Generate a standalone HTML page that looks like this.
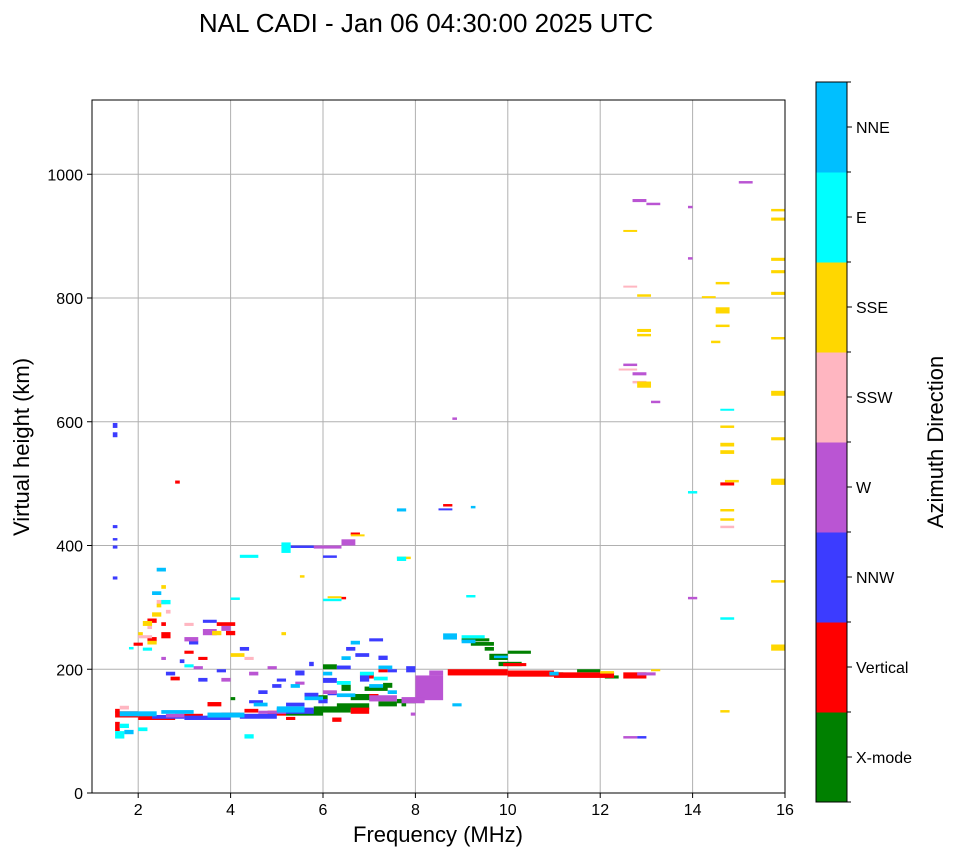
<!DOCTYPE html>
<html><head><meta charset="utf-8">
<style>
html,body{margin:0;padding:0;background:#fff;}
body{width:958px;height:857px;overflow:hidden;font-family:"Liberation Sans",sans-serif;}
svg text{font-family:"Liberation Sans",sans-serif;fill:#000;}
</style></head>
<body>
<svg id="chart" width="958" height="857" viewBox="0 0 958 857" xmlns="http://www.w3.org/2000/svg">
<text x="426" y="32" font-size="26" text-anchor="middle">NAL CADI - Jan 06 04:30:00 2025 UTC</text>
<g id="grid"></g>
<g id="marks"></g>
<rect x="92" y="100" width="693" height="693" fill="none" stroke="#000" stroke-width="1"/>
<g id="axes"></g>
<text x="438" y="842" font-size="22" text-anchor="middle">Frequency (MHz)</text>
<text transform="translate(29,447) rotate(-90)" font-size="22" text-anchor="middle">Virtual height (km)</text>
<g id="cbar"></g>
<text transform="translate(943,442) rotate(-90)" font-size="22" text-anchor="middle">Azimuth Direction</text>
</svg>
<script>
const xTicks=[2,4,6,8,10,12,14,16];
const yTicks=[0,200,400,600,800,1000];
const catLabels=["X-mode","Vertical","NNW","W","SSW","SSE","E","NNE"];
const catColors=["#008000","#ff0000","#3c3cff","#ba55d3","#ffb6c1","#ffd700","#00ffff","#00bfff"];
// runs: [freqStart, freqEnd, heightLow, heightHigh]
const xmodeRuns=[[5.2,6.0,125,135],[5.8,6.6,130,140],[6.3,7.0,135,145],[6.6,7.2,150,160],[6.9,7.4,165,172],[7.2,7.6,140,148],[7.6,8.0,145,152],[6.0,6.3,200,208],[7.3,7.5,170,178],[9.0,9.6,245,250],[9.2,9.7,238,244],[9.6,10.0,215,225],[9.8,10.3,205,212],[10.0,10.5,225,230],[10.8,11.2,190,195],[11.5,12.0,195,200],[12.1,12.4,185,190],[9.5,9.7,230,236],[6.4,6.6,165,175],[5.9,6.1,150,158],[4.0,4.1,150,155],[7.7,7.8,140,146]];
const verticalRuns=[[1.5,2.0,122,132],[2.0,2.8,118,126],[2.8,3.4,122,128],[3.8,4.2,122,130],[4.8,5.2,125,133],[6.6,7.0,128,138],[6.8,7.1,185,195],[7.2,7.4,195,200],[8.7,10.0,190,200],[10.0,11.0,188,198],[11.0,12.3,186,195],[12.5,13.0,185,195],[9.9,10.4,205,210],[1.5,1.6,100,115],[2.2,2.4,245,252],[2.5,2.7,250,260],[2.5,2.6,270,276],[1.9,2.1,238,243],[3.7,4.1,270,276],[3.9,4.1,255,262],[2.8,2.9,500,505],[8.6,8.8,463,467],[6.4,6.5,313,317],[6.6,6.8,417,421],[3.3,3.5,215,220],[3.5,3.8,140,147],[14.6,14.9,497,502],[7.0,7.2,155,160],[6.2,6.4,115,122],[4.3,4.6,130,136],[2.2,2.4,275,282],[1.6,1.8,125,130],[2.7,2.9,182,188],[3.0,3.2,225,230],[5.2,5.4,118,123],[1.5,1.6,130,136]];
const nnwRuns=[[1.45,1.55,590,598],[1.45,1.55,575,583],[1.45,1.55,428,433],[1.45,1.55,408,412],[1.45,1.55,395,400],[1.45,1.55,345,350],[2.3,3.0,120,126],[3.0,4.0,118,125],[4.2,5.0,120,128],[5.0,5.8,128,138],[5.2,5.6,140,146],[5.6,5.9,155,162],[6.0,6.3,178,186],[6.3,6.6,200,206],[6.7,7.0,220,226],[7.0,7.3,245,250],[3.3,3.5,180,186],[2.6,2.8,190,196],[3.1,3.3,240,246],[4.6,4.8,160,166],[5.0,5.2,180,185],[5.3,6.2,396,400],[7.8,8.0,195,205],[8.5,8.8,457,460],[12.8,13.0,88,92],[3.4,3.7,275,280],[4.4,4.7,145,150],[6.0,6.3,380,384],[4.9,5.1,170,176],[5.4,5.6,190,198],[5.7,5.8,205,212],[6.5,6.7,230,236],[7.2,7.4,215,222],[6.8,7.0,180,190],[4.2,4.4,230,236],[3.7,3.9,195,200],[2.9,3.0,210,216],[5.9,6.1,145,152],[7.4,7.6,195,200],[6.1,6.3,158,164]];
const wRuns=[[8.0,8.6,150,190],[8.3,8.6,190,198],[7.7,8.2,145,155],[7.0,7.6,148,158],[3.4,3.7,255,265],[3.8,4.0,262,270],[3.0,3.3,245,252],[2.6,3.0,122,128],[4.6,5.2,128,133],[5.8,6.4,395,400],[6.4,6.7,400,410],[12.8,13.2,190,195],[12.5,12.8,88,92],[8.8,8.9,603,607],[13.9,14.0,945,949],[13.9,14.0,862,866],[12.5,12.8,690,694],[12.7,13.0,955,960],[13.0,13.3,950,954],[12.7,13.0,675,680],[13.1,13.3,630,634],[13.9,14.1,313,317],[15.0,15.3,985,989],[4.4,4.6,190,196],[3.8,4.0,180,186],[7.9,8.0,125,130],[6.0,6.3,160,166],[4.8,5.0,200,205],[5.4,5.6,175,180],[3.2,3.4,200,205],[2.5,2.6,215,220]];
const sswRuns=[[2.0,2.3,250,255],[2.4,2.6,305,312],[1.6,1.8,135,141],[3.0,3.2,270,275],[4.3,4.5,215,220],[12.5,12.8,817,820],[12.7,13.0,662,666],[14.6,14.9,428,432],[12.4,12.8,683,686],[2.6,2.7,290,296],[2.2,2.3,265,270]];
const sseRuns=[[2.1,2.3,270,278],[2.3,2.5,285,292],[2.4,2.5,300,306],[2.2,2.4,240,246],[2.5,2.6,330,336],[3.6,3.8,255,262],[4.0,4.3,220,226],[5.1,5.2,255,260],[6.6,6.9,415,418],[7.6,7.9,378,382],[5.5,5.6,348,352],[6.1,6.4,315,318],[12.5,12.8,907,910],[12.8,13.1,802,806],[12.8,13.1,745,750],[12.8,13.1,738,742],[12.8,13.1,655,665],[14.2,14.5,800,803],[14.5,14.8,822,826],[14.5,14.8,775,785],[14.5,14.8,753,757],[14.4,14.6,727,731],[14.6,14.9,590,594],[14.6,14.9,560,566],[14.6,14.9,548,554],[14.6,14.9,455,459],[14.6,14.9,440,444],[14.7,15.0,502,506],[14.6,14.8,130,134],[15.7,16.0,940,944],[15.7,16.0,925,930],[15.7,16.0,860,865],[15.7,16.0,840,845],[15.7,16.0,805,810],[15.7,16.0,733,737],[15.7,16.0,642,650],[15.7,16.0,570,575],[15.7,16.0,498,508],[15.7,16.0,340,344],[15.7,16.0,230,240],[13.1,13.3,197,200],[12.0,12.3,193,197],[2.0,2.1,255,260]];
const eRuns=[[1.5,1.7,88,100],[4.2,4.6,380,385],[5.1,5.3,388,405],[7.6,7.8,375,382],[6.0,6.4,310,314],[2.5,2.7,305,312],[2.1,2.3,230,235],[1.8,1.9,232,236],[9.1,9.3,316,320],[13.9,14.1,484,488],[14.6,14.9,618,621],[14.6,14.9,280,284],[6.8,7.1,190,196],[6.3,6.6,175,181],[7.1,7.4,182,188],[9.0,9.5,250,255],[2.0,2.2,100,106],[4.3,4.5,88,95],[4.0,4.2,312,316],[1.6,1.8,105,112],[3.0,3.2,203,208]];
const nneRuns=[[1.6,2.4,124,132],[2.5,3.2,128,134],[3.5,4.3,122,130],[5.0,5.6,130,140],[5.6,6.0,150,156],[6.3,6.7,155,161],[7.0,7.3,170,176],[7.2,7.5,200,206],[8.6,8.9,248,258],[9.0,9.3,242,248],[9.7,10.0,218,222],[10.9,11.1,190,196],[8.8,9.0,140,145],[7.6,7.8,455,460],[9.2,9.3,460,464],[6.4,6.6,215,221],[6.6,6.8,240,246],[2.4,2.6,358,364],[1.7,1.9,95,102],[4.5,4.8,140,146],[5.3,5.5,170,176],[6.0,6.2,190,196],[7.4,7.6,160,166],[2.3,2.5,320,326]];

const NS="http://www.w3.org/2000/svg";
const X0=92,X1=785,Y0=793,Y1=100,FMIN=1,FMAX=16,HMIN=0,HMAX=1120;
function xs(f){return X0+(f-FMIN)/(FMAX-FMIN)*(X1-X0);}
function ys(h){return Y0-(h-HMIN)/(HMAX-HMIN)*(Y0-Y1);}
function mk(tag,attrs,parent){const e=document.createElementNS(NS,tag);for(const k in attrs)e.setAttribute(k,attrs[k]);parent.appendChild(e);return e;}
const grid=document.getElementById('grid'),axes=document.getElementById('axes'),marks=document.getElementById('marks'),cbar=document.getElementById('cbar');
xTicks.forEach(t=>{const x=xs(t);
 const g=mk('line',{x1:x,x2:x,y1:Y1,y2:Y0,stroke:'#b0b0b0','stroke-width':1},grid);
 
 
 mk('line',{x1:x,x2:x,y1:Y0,y2:Y0+5,stroke:'#000'},axes);
 const tx=mk('text',{x:x,y:Y0+22,'font-size':16,'text-anchor':'middle'},axes);tx.textContent=t;
 
 
});
yTicks.forEach(t=>{const y=ys(t);
 const g=mk('line',{x1:X0,x2:X1,y1:y,y2:y,stroke:'#b0b0b0','stroke-width':1},grid);
 
 
 mk('line',{x1:X0-5,x2:X0,y1:y,y2:y,stroke:'#000'},axes);
 const tx=mk('text',{x:X0-9,y:y+6,'font-size':16,'text-anchor':'end'},axes);tx.textContent=t;
 
 
});
const allRuns=[xmodeRuns,verticalRuns,nnwRuns,wRuns,sswRuns,sseRuns,eRuns,nneRuns];
allRuns.forEach((runs,ci)=>{runs.forEach(r=>{
 const x=xs(r[0]),w=Math.max(2,xs(r[1])-xs(r[0])),yT=ys(r[3]),h=Math.max(2,ys(r[2])-ys(r[3]));
 const xc=Math.max(X0,x),wc=Math.min(X1,x+w)-xc;
 const rc=mk('rect',{x:xc,y:yT,width:wc,height:h,fill:catColors[ci]},marks);
 
 
});});
const CX=816,CW=31,CT=82,CB=802,seg=(CB-CT)/catLabels.length;
catLabels.forEach((lab,i)=>{const yb=CB-i*seg;
 const r=mk('rect',{x:CX,y:yb-seg,width:CW,height:seg+0.5,fill:catColors[i]},cbar);
 
 
 const yc=yb-seg/2;
 mk('line',{x1:CX+CW,x2:CX+CW+5,y1:yc,y2:yc,stroke:'#000'},cbar);
 const t=mk('text',{x:CX+CW+9,y:yc+6,'font-size':16},cbar);t.textContent=lab;
 
 
});
for(let i=0;i<=catLabels.length;i++){const y=CT+i*seg;mk('line',{x1:CX+CW,x2:CX+CW+4,y1:y,y2:y,stroke:'#000'},cbar);}
mk('rect',{x:CX,y:CT,width:CW,height:CB-CT,fill:'none',stroke:'#000','stroke-width':1},cbar);
</script>
</body></html>
